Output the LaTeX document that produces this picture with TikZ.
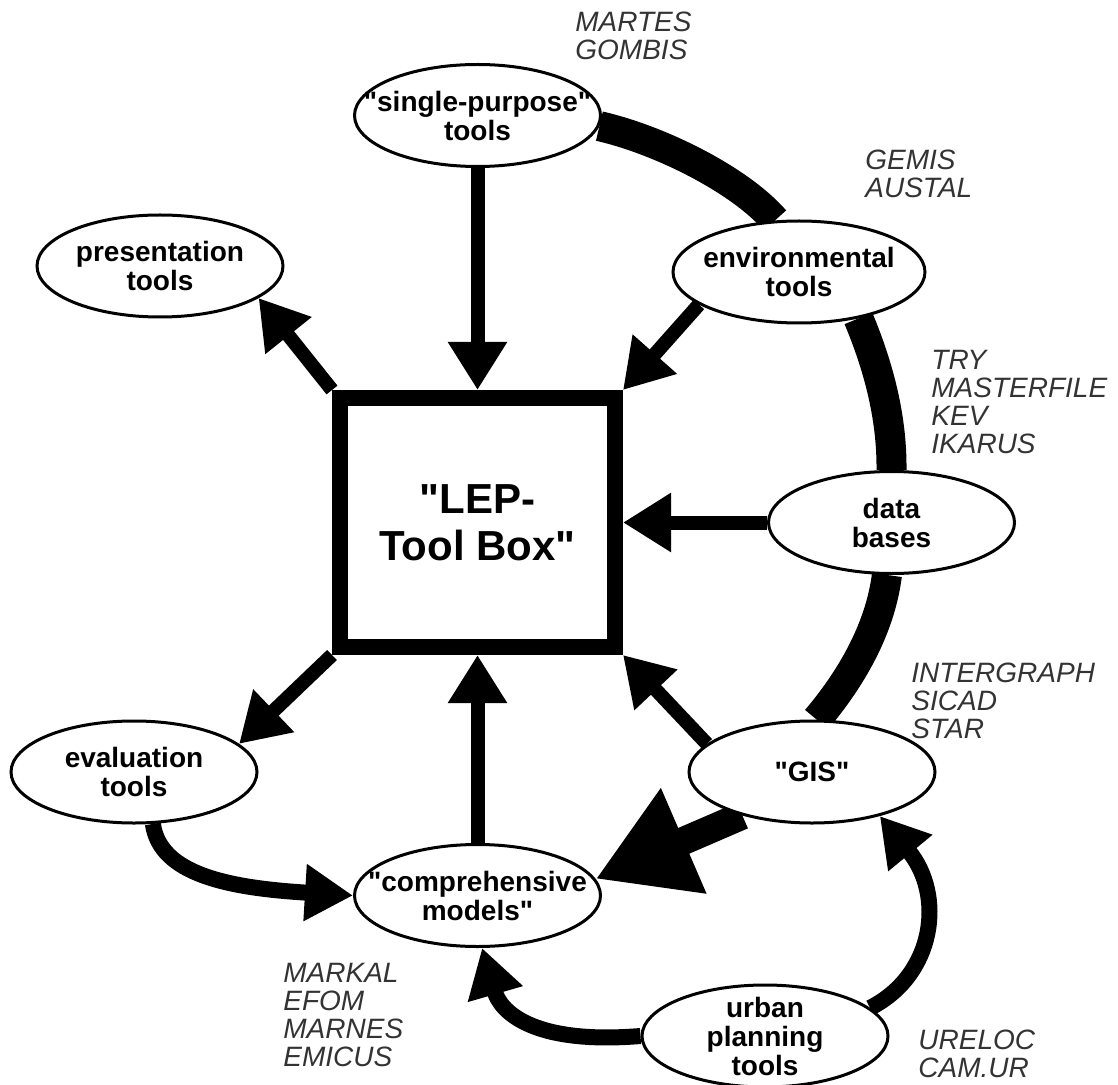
\documentclass[tikz,border=0pt]{standalone}
\usepackage{fontspec}
\setmainfont{Liberation Sans}[Ligatures=TeXOff]
\usetikzlibrary{positioning,shapes.geometric,arrows.meta,backgrounds}

\newcommand\toolfont{\fontsize{14}{14.5}\selectfont\bfseries}
\newcommand\listfont{\fontsize{14}{14}\selectfont\itshape}
\newcommand\corefont{\fontsize{21}{23.5}\selectfont\bfseries}

\tikzset{
  tool/.style={ellipse, draw, line width=1.5pt, fill=white, align=center,
    minimum width=123pt, minimum height=51pt, inner xsep=-16pt, inner ysep=-4pt,
    font=\toolfont},
  core/.style={rectangle, draw, line width=8pt, fill=white, align=center,
    minimum width=137.5pt, minimum height=124.5pt, font=\corefont},
  note/.style={anchor=north west, align=left, inner sep=0pt, font=\listfont, text=black!80},
  feed/.style={line width=7pt, -{Triangle[width=28pt,length=24pt]}},
  swing/.style={line width=8pt, -{Triangle[width=27pt,length=24pt]}},
  heavy/.style={line width=14pt, -{Triangle[width=54pt,length=48pt]}},
  ring/.style={line width=15pt}
}

\begin{document}
\begin{tikzpicture}[x=0.5pt, y=-0.5pt]
  \useasboundingbox (0,0) rectangle (1118,1085);

  \node [core] (box) at (477.5,522.5) {"LEP-\\Tool Box"};
  \node [tool] (sp) [above=111pt of box] {"single-purpose"\\tools};
  \node [tool] (db) [right=72pt of box] {data\\bases};
  \node [tool] (comp) [below=94pt of box] {"comprehensive\\models"};
  \node [tool, minimum width=126pt] (env) at (799,272) {environmental\\tools};
  \node [tool] (pres) at (160,266) {presentation\\tools};
  \node [tool] (eval) at (134,772) {evaluation\\tools};
  \node [tool] (gis) at (812,772) {"GIS"};
  \node [tool] (urban) at (765,1036) {urban\\planning\\tools};

  % program names
  \node [note] (mart) at (575,12) {MARTES\\GOMBIS};
  \node [note] (gem) at (865,150) {GEMIS\\AUSTAL};
  \node [note] (try) at (931,350) {TRY\\MASTERFILE\\KEV\\IKARUS};
  \node [note] (inter) at (911,663) {INTERGRAPH\\SICAD\\STAR};
  \node [note] (urel) at (918,1030) {URELOC\\CAM.UR};
  \node [note] (mark) at (283,963) {MARKAL\\EFOM\\MARNES\\EMICUS};

  \begin{scope}[on background layer]
    \draw [ring] (sp.-5) .. controls (660,140) and (740,180) .. (env.115);
    \draw [ring] (env.-38) .. controls (880,370) and (892,420) .. (db.90);
    \draw [ring] (db.-95) .. controls (880,630) and (850,680) .. (gis.85);
    \draw [feed] (sp) -- (box);
    \draw [feed] (env.198) -- (box.north east);
    \draw [feed] (db) -- (box);
    \draw [feed] (gis.165) -- (box.south east);
    \draw [feed] (box.north west) -- (pres.-18);
    \draw [feed] (box.south west) -- (eval.15);
    \draw [feed] (comp) -- (box);
    \draw [swing] (eval.-70) .. controls (160,875) and (230,888) .. (comp.west);
    \draw [heavy] (gis.212) -- (comp.8);
    \draw [swing] (urban.west) .. controls (530,1045) and (500,1010) .. (comp.-85);
    \draw [swing] (urban.15) .. controls (935,975) and (945,895) .. (gis.-33);
  \end{scope}
\end{tikzpicture}
\end{document}
